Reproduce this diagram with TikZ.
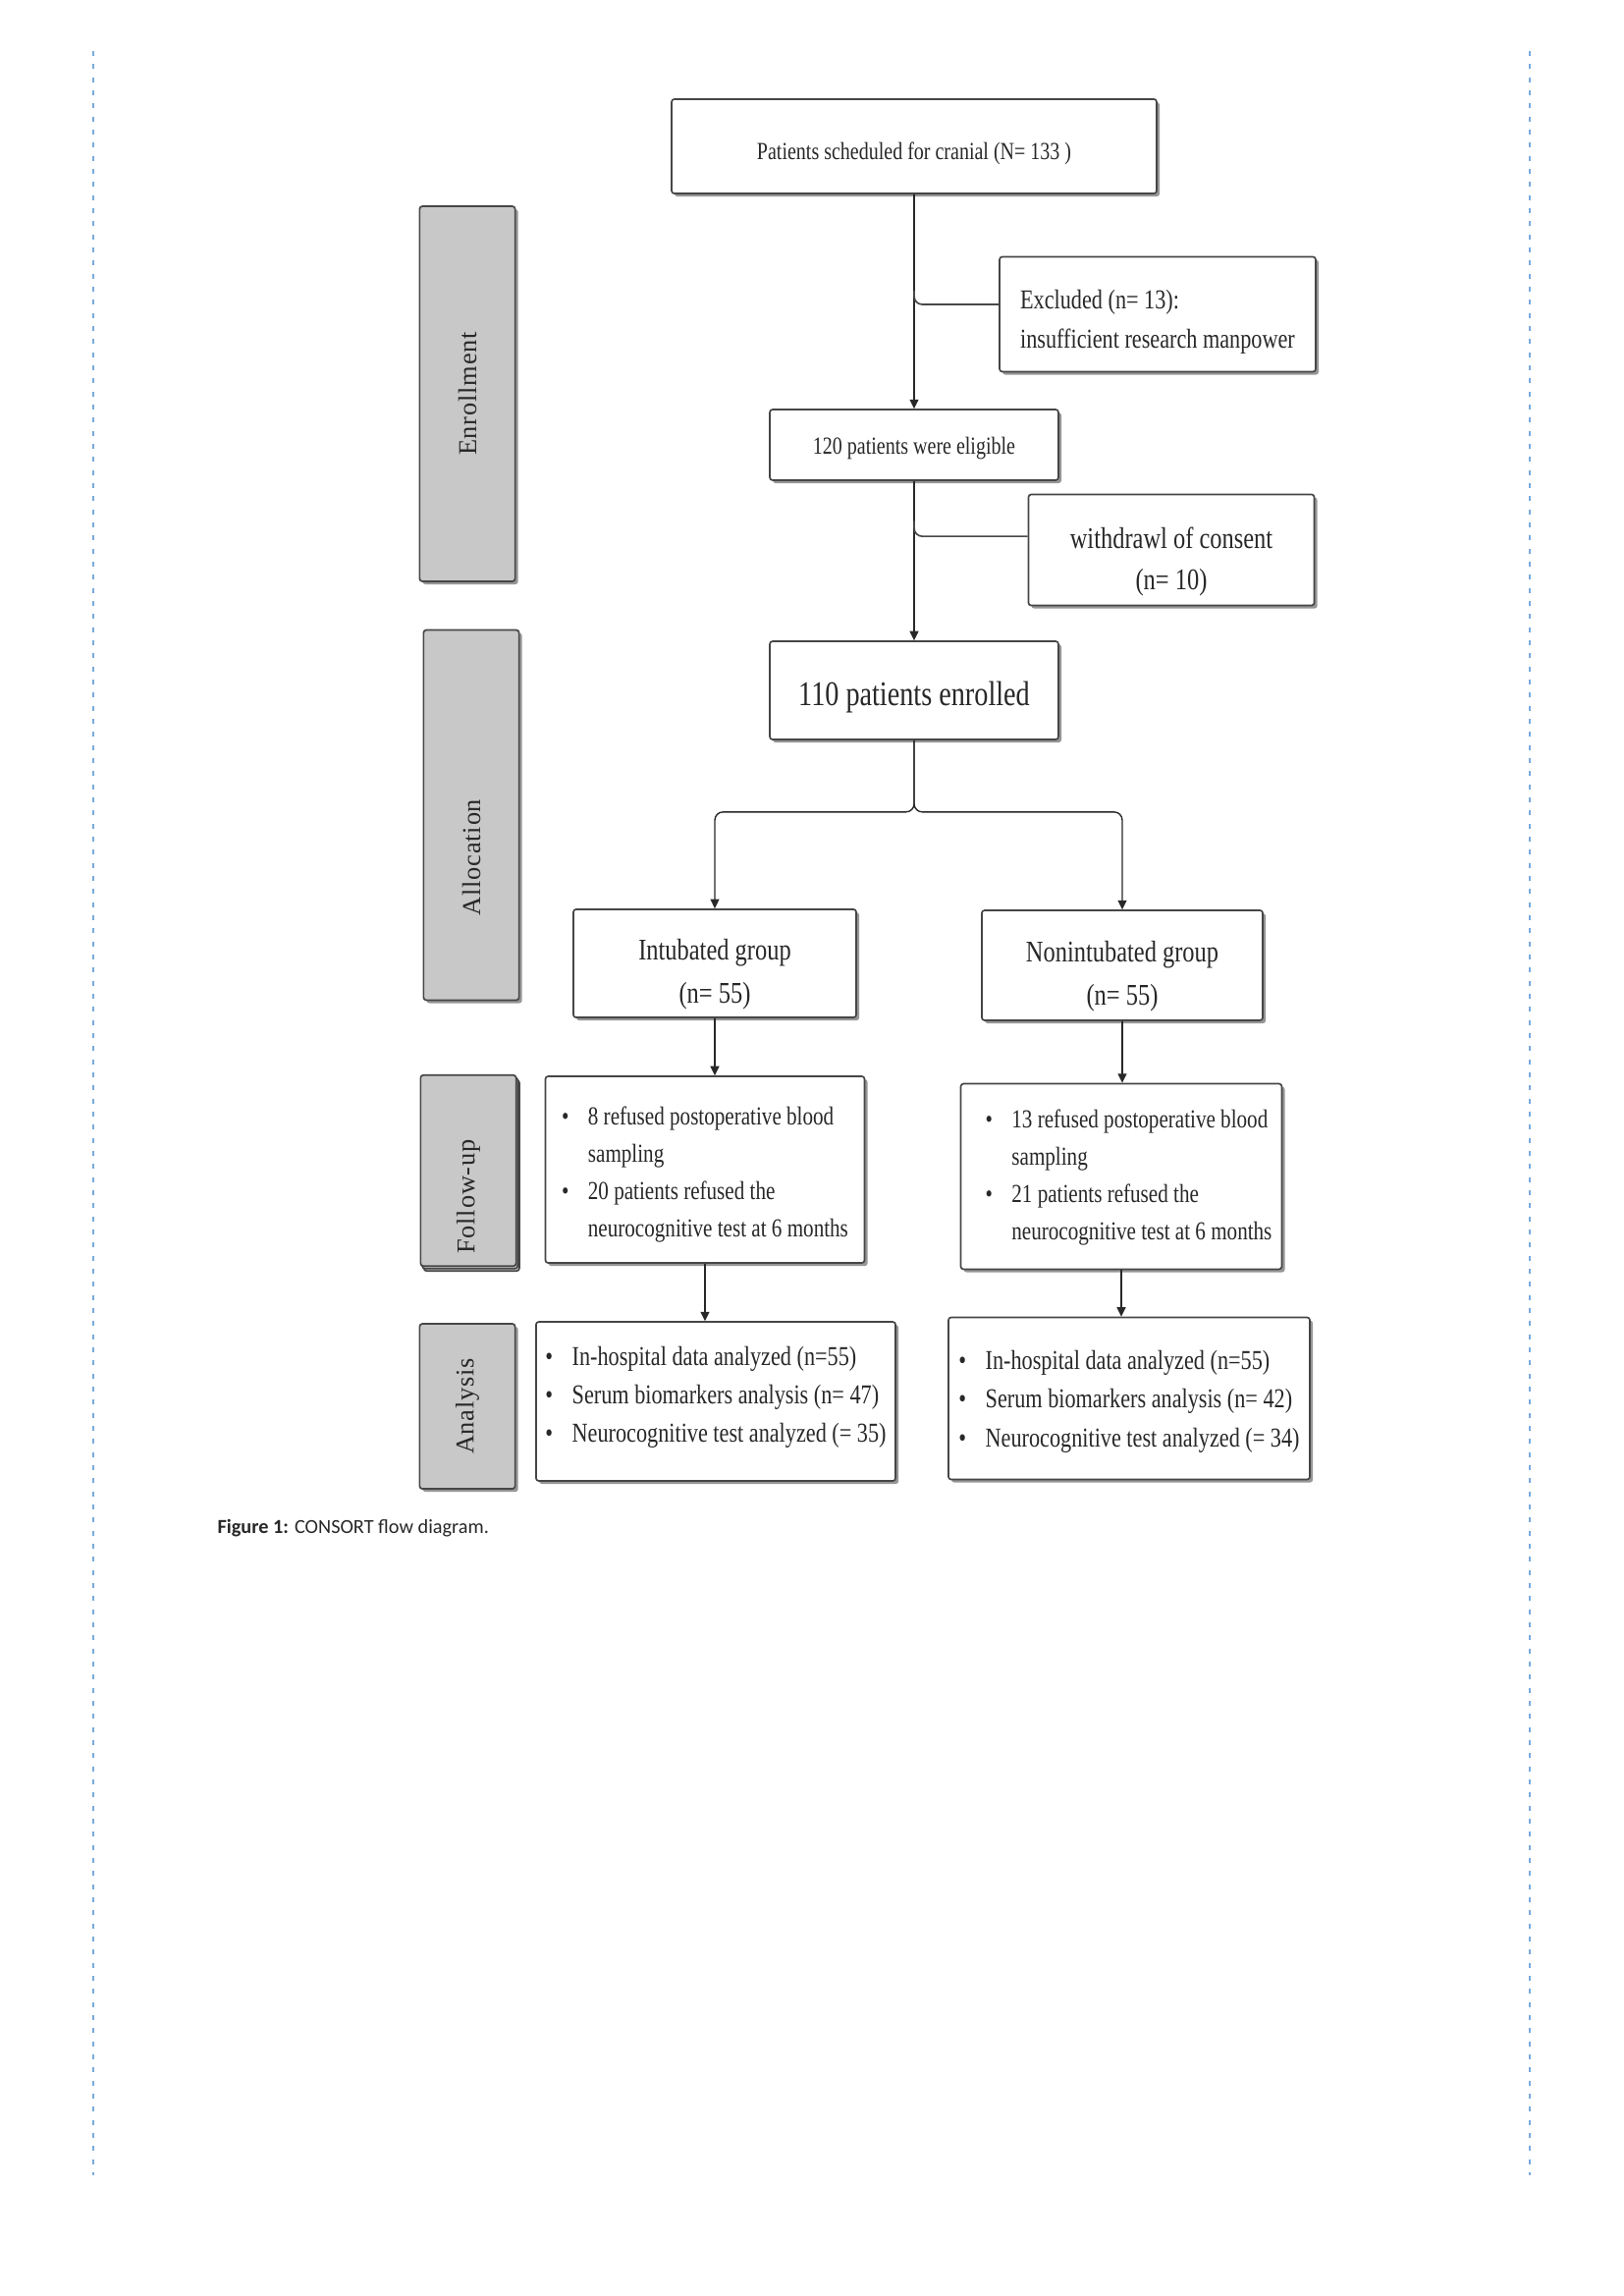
\documentclass[tikz,border=0pt]{standalone}
\usepackage{fontspec}
\usepackage{graphicx}
\setmainfont{Liberation Serif}
\newfontfamily\boxfont{Liberation Serif}[FakeStretch=0.8]
\newfontfamily\stagefont{Liberation Serif}[LetterSpace=3]
\newfontfamily\capfont{Carlito}
\usepackage{tikz}
\usetikzlibrary{arrows.meta,positioning,calc,shadows}
\definecolor{boxline}{RGB}{70,70,70}
\definecolor{shadowgray}{RGB}{150,150,150}
\definecolor{stagefill}{RGB}{200,200,200}
\definecolor{txtgray}{RGB}{40,40,40}
\definecolor{pageblue}{RGB}{120,170,220}
\newcommand{\tdown}[1]{\rule{0pt}{#1}}
\tikzset{
  box/.style={rectangle,rounded corners=1pt,draw=boxline,line width=0.6pt,fill=white,
              text=txtgray,align=center,inner sep=3pt,
              drop shadow={shadow xshift=1.1pt,shadow yshift=-1.1pt,fill=shadowgray,opacity=1}},
  lbox/.style={box,align=left},
  stage/.style={box,fill=stagefill,minimum width=35pt,font=\stagefont\fontsize{9.5}{11}\selectfont},
  fl/.style={-{Triangle[length=3.4pt,width=3.2pt]},draw=txtgray,line width=0.5pt},
  br/.style={draw=txtgray!85,line width=0.6pt,rounded corners=3pt},
  pagedash/.style={draw=pageblue,line width=0.7pt,dash pattern=on 1.8pt off 3pt},
}

\begin{document}
\begin{tikzpicture}[x=0.36pt,y=-0.36pt]
  \path[use as bounding box,fill=white] (0,0) rectangle (1653,2338);
  \draw[pagedash] (95,52) -- (95,2215);
  \draw[pagedash] (1558,52) -- (1558,2215);

  \node[stage,minimum height=137.5pt] (stEnr) at (476,401) {\rotatebox{90}{Enrollment}};
  \node[stage,minimum height=135.7pt] (stAll) at (480,830) {\rotatebox{90}{Allocation\hspace{31pt}}};
  \node[stage,minimum height=70pt,double copy shadow={shadow xshift=0.6pt,shadow yshift=-0.9pt}]
    (stFol) at (477,1192) {\rotatebox{90}{Follow-up\hspace{19pt}}};
  \node[stage,minimum height=60.5pt] (stAna) at (476,1432) {\rotatebox{90}{Analysis}};

  \node[box,minimum width=177.8pt,minimum height=34.6pt,font=\boxfont\fontsize{9}{11}\selectfont]
    (sched) at (931,149) {\tdown{11.6pt}Patients scheduled for cranial (N= 133 )};
  \node[lbox,minimum width=115.9pt,minimum height=42.1pt,font=\boxfont\fontsize{10}{14.4}\selectfont]
    (excl) at (1179,320) {\tdown{12.3pt}Excluded (n= 13):\\insufficient research manpower};
  \node[box,minimum width=105.8pt,minimum height=25.9pt,font=\boxfont\fontsize{9}{11}\selectfont]
    (elig) at (931,453) {\tdown{9pt}120 patients were eligible};
  \node[box,minimum width=104.8pt,minimum height=40.7pt,font=\boxfont\fontsize{11}{15}\selectfont]
    (wdr) at (1193,560) {\tdown{16.5pt}withdrawl of consent\\(n= 10)};
  \node[box,minimum width=105.8pt,minimum height=36pt,font=\boxfont\fontsize{12.7}{15}\selectfont]
    (enr) at (931,703) {\tdown{14.2pt}110 patients enrolled};
  \node[box,minimum width=103.7pt,minimum height=39.6pt,font=\boxfont\fontsize{11}{15.8}\selectfont]
    (intb) at (728,981) {\tdown{15.5pt}Intubated group\\(n= 55)};
  \node[box,minimum width=103pt,minimum height=40.3pt,font=\boxfont\fontsize{11}{15.8}\selectfont]
    (nint) at (1143,983) {\tdown{15.5pt}Nonintubated group\\(n= 55)};

  \node[box,minimum width=117pt,minimum height=68.4pt,font=\boxfont\fontsize{9.5}{13.7}\selectfont]
    (fuL) at (718,1191) {\begin{tabular}{@{}l@{\hspace{7pt}}l@{}}\noalign{\vskip 3pt}
      \textbullet & 8 refused postoperative blood\\ & sampling\\
      \textbullet & 20 patients refused the\\ & neurocognitive test at 6 months\end{tabular}};
  \node[box,minimum width=117.7pt,minimum height=68pt,font=\boxfont\fontsize{9.5}{13.7}\selectfont]
    (fuR) at (1142,1198) {\hspace{5.4pt}\begin{tabular}{@{}l@{\hspace{7pt}}l@{}}
      \textbullet & 13 refused postoperative blood\\ & sampling\\
      \textbullet & 21 patients refused the\\ & neurocognitive test at 6 months\end{tabular}};
  \node[box,minimum width=131.8pt,minimum height=58.3pt,font=\boxfont\fontsize{10}{14.1}\selectfont]
    (anL) at (729,1427) {\begin{tabular}{@{}l@{\hspace{7pt}}l@{}}
      \textbullet & In-hospital data analyzed (n=55)\\
      \textbullet & Serum biomarkers analysis (n= 47)\\
      \textbullet & Neurocognitive test analyzed (= 35)\\[4pt]\end{tabular}};
  \node[box,minimum width=132.5pt,minimum height=59.4pt,font=\boxfont\fontsize{10}{14.1}\selectfont]
    (anR) at (1150,1424) {\begin{tabular}{@{}l@{\hspace{7pt}}l@{}}\noalign{\vskip 1.5pt}
      \textbullet & In-hospital data analyzed (n=55)\\
      \textbullet & Serum biomarkers analysis (n= 42)\\
      \textbullet & Neurocognitive test analyzed (= 34)\end{tabular}};

  \node[anchor=west,inner sep=0pt,text=txtgray,font=\capfont\fontsize{7.3}{9}\selectfont]
    (cap) at (221,1556) {\textbf{Figure 1:} CONSORT flow diagram.};

  \coordinate (j1) at ($(sched.south)!0.45!(elig.north)$);
  \coordinate (j2) at ($(elig.south)!0.25!(enr.north)$);
  \coordinate (sp) at ($(enr.south)+(0,73)$);
  \draw[fl] (sched) -- (elig);
  \draw[br] (j1) |- ([yshift=3.6pt]excl.west);
  \draw[fl] (elig) -- (enr);
  \draw[br] (j2) |- ([yshift=5pt]wdr.west);
  \draw[fl,rounded corners=3pt] (enr.south) -- (sp) -| (intb.north);
  \draw[fl,rounded corners=3pt] (enr.south) -- (sp) -| (nint.north);
  \draw[fl] (intb.south) -- (intb.south |- fuL.north);
  \draw[fl] (nint.south) -- (nint.south |- fuR.north);
  \draw[fl] (fuL.south) -- (fuL.south |- anL.north);
  \draw[fl] (fuR.south) -- (fuR.south |- anR.north);
\end{tikzpicture}
\end{document}
